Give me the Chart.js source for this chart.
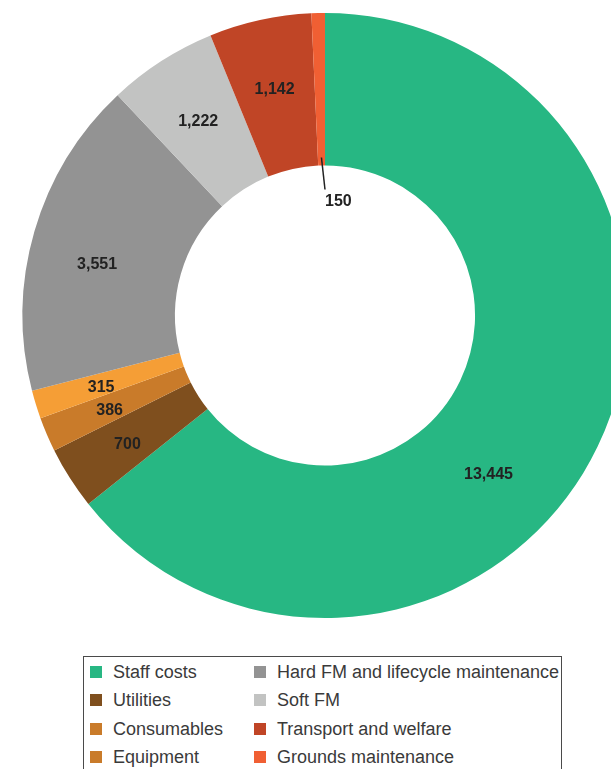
<!DOCTYPE html>
<html>
<head>
<meta charset="utf-8">
<script src="https://cdn.jsdelivr.net/npm/chart.js@4.4.1/dist/chart.umd.min.js"></script>
<style>
  html, body { margin: 0; padding: 0; background: #fff; overflow: hidden; width: 611px; height: 769px; }
  #wrap { position: absolute; left: 0; top: 0; width: 650px; height: 630px; }
  #leyenda {
    position: absolute; left: 83px; top: 656px; width: 479px; height: 140px;
    border: 1.5px solid #4a4a4a; box-sizing: border-box;
    font-family: "Liberation Sans", Arial, sans-serif; font-size: 18px; color: #3a3a3a;
  }
  .item { position: absolute; height: 28px; line-height: 28px; white-space: nowrap; }
  .item span.cuadro { position: absolute; left: 0; top: 8px; width: 12px; height: 12px; }
  .item span.texto { position: absolute; left: 23px; top: 0; }
</style>
</head>
<body>
<div id="wrap"><canvas id="miGrafico" width="650" height="630"></canvas></div>
<div id="leyenda"></div>
<script>
// Datos del gráfico
const categorias = ['Staff costs', 'Utilities', 'Consumables', 'Equipment',
  'Hard FM and lifecycle maintenance', 'Soft FM', 'Transport and welfare', 'Grounds maintenance'];
const valores = [13445, 700, 386, 315, 3551, 1222, 1142, 150];
const colores = ['#27b783', '#7f4f1e', '#c97b2a', '#f59e36', '#939393', '#c2c3c2', '#c04526', '#f05f33'];
const coloresLeyenda = ['#27b783', '#7f4f1e', '#c97b2a', '#c97b2a', '#939393', '#c2c3c2', '#c04526', '#f05f33'];

// Posición de la etiqueta dentro de cada segmento (fracción del ángulo)
const posEtiqueta = [0.58, 0.5, 0.5, 0.5, 0.455, 0.5, 0.5, 0.5];

const formatear = v => v.toLocaleString('en-US');

// Etiquetas de valores sobre cada segmento
const etiquetasPlugin = {
  id: 'etiquetas',
  afterDatasetsDraw(chart) {
    const ctx = chart.ctx;
    const meta = chart.getDatasetMeta(0);
    ctx.save();
    ctx.font = 'bold 16px "Liberation Sans", Arial, sans-serif';
    ctx.fillStyle = '#222';
    ctx.strokeStyle = '#222';
    ctx.lineWidth = 1.5;
    meta.data.forEach((arc, i) => {
      const p = arc.getProps(['x', 'y', 'startAngle', 'endAngle', 'innerRadius', 'outerRadius'], true);
      const texto = formatear(valores[i]);
      if (p.endAngle - p.startAngle < 0.05) {
        // segmento pequeño: etiqueta dentro del hueco con línea guía
        const a = (p.startAngle + p.endAngle) / 2;
        const r0 = p.innerRadius + 8;
        ctx.beginPath();
        ctx.moveTo(p.x + Math.cos(a) * r0, p.y + Math.sin(a) * r0);
        ctx.lineTo(p.x, p.y - (p.innerRadius - 24));
        ctx.stroke();
        ctx.textAlign = 'left';
        ctx.textBaseline = 'middle';
        ctx.fillText(texto, p.x, p.y - (p.innerRadius - 36));
        return;
      }
      const a = p.startAngle + (p.endAngle - p.startAngle) * posEtiqueta[i];
      const r = (p.innerRadius + p.outerRadius) / 2 + (i === 0 ? 2 : 8);
      ctx.textAlign = 'center';
      ctx.textBaseline = 'middle';
      ctx.fillText(texto, p.x + Math.cos(a) * r, p.y + Math.sin(a) * r + (i === 0 ? 0 : 3));
    });
    ctx.restore();
  }
};

new Chart(document.getElementById('miGrafico').getContext('2d'), {
  type: 'doughnut',
  data: {
    labels: categorias,
    datasets: [{
      data: valores,
      backgroundColor: colores,
      borderWidth: 0
    }]
  },
  options: {
    responsive: false,
    animation: false,
    cutout: '49.6%',
    layout: { padding: { top: 13, bottom: 12, left: 0, right: 0 } },
    plugins: {
      legend: { display: false },
      tooltip: { enabled: false }
    }
  },
  plugins: [etiquetasPlugin]
});

// Leyenda en dos columnas
const leyenda = document.getElementById('leyenda');
categorias.forEach((nombre, i) => {
  const col = Math.floor(i / 4);
  const fila = i % 4;
  const el = document.createElement('div');
  el.className = 'item';
  el.style.left = (col === 0 ? 6 : 170) + 'px';
  el.style.top = (1 + fila * 28.3) + 'px';
  el.innerHTML = '<span class="cuadro" style="background:' + coloresLeyenda[i] + '"></span><span class="texto"></span>';
  el.querySelector('.texto').textContent = nombre;
  leyenda.appendChild(el);
});
</script>
</body>
</html>
